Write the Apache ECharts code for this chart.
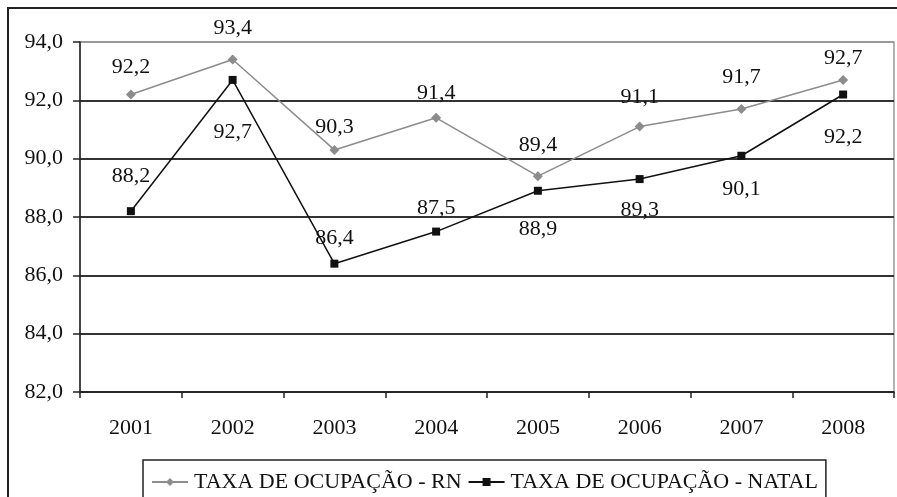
<!DOCTYPE html>
<html>
<head>
<meta charset="utf-8">
<script src="https://cdn.jsdelivr.net/npm/echarts@6/dist/echarts.min.js"></script>
<style>
  html, body { margin: 0; padding: 0; background: #fff; }
  #frame {
    position: absolute; left: 7px; top: 7px; width: 900px; height: 500px;
    border-left: 2px solid #222; border-top: 2px solid #222;
  }
  #chart { position: absolute; left: 0; top: 0; width: 897px; height: 497px; }
</style>
</head>
<body>
<div id="frame"></div>
<div id="chart"></div>
<script>
const years = ['2001', '2002', '2003', '2004', '2005', '2006', '2007', '2008'];
const taxaRN = [92.2, 93.4, 90.3, 91.4, 89.4, 91.1, 91.7, 92.7];
const taxaNatal = [88.2, 92.7, 86.4, 87.5, 88.9, 89.3, 90.1, 92.2];
// label placement as in the original
const rnLabelDist = [11, 15, 7, 9, 15, 13, 16, 6];
const natalLabelPos = ['top', 'bottom', 'top', 'top', 'bottom', 'bottom', 'bottom', 'bottom'];
const natalLabelDist = [20, 37, 10, 8, 23, 16, 18, 28];

const font = '"Liberation Serif", "DejaVu Serif", serif';
const fmt = v => v.toFixed(1).replace('.', ',');

const chart = echarts.init(document.getElementById('chart'), null, { renderer: 'canvas' });

chart.setOption({
  animation: false,
  grid: {
    left: 80, right: 3, top: 42, bottom: 105,
    show: true, borderColor: '#999', borderWidth: 1.5, backgroundColor: 'transparent'
  },
  legend: {
    left: 143, top: 460,
    padding: [11, 8, 12, 8],
    borderColor: '#222', borderWidth: 1.5,
    itemWidth: 36, itemHeight: 10, itemGap: 6,
    textStyle: { fontFamily: font, fontSize: 22, color: '#111', padding: [0, 0, 0, 1] },
    data: ['TAXA DE OCUPAÇÃO - RN', 'TAXA DE OCUPAÇÃO - NATAL']
  },
  xAxis: {
    type: 'category',
    data: years,
    boundaryGap: true,
    axisLine: { lineStyle: { color: '#222', width: 1.5 } },
    axisTick: { show: true, alignWithLabel: false, length: 6, lineStyle: { color: '#222', width: 1.5 } },
    axisLabel: { margin: 25, fontFamily: font, fontSize: 22, color: '#111' }
  },
  yAxis: {
    type: 'value',
    min: 82, max: 94, interval: 2,
    axisLine: { show: true, lineStyle: { color: '#222', width: 1.5 } },
    axisTick: { show: true, length: 7, lineStyle: { color: '#222', width: 1.5 } },
    axisLabel: { margin: 17, fontFamily: font, fontSize: 22, color: '#111', formatter: fmt },
    splitLine: { lineStyle: { color: ['#333', '#333', '#333', '#333', '#333', '#333', '#999'], width: 1.8 } }
  },
  series: [
    {
      name: 'TAXA DE OCUPAÇÃO - RN',
      type: 'line',
      data: taxaRN.map((v, i) => ({ value: v, label: { distance: rnLabelDist[i] } })),
      symbol: 'diamond',
      symbolSize: 10,
      itemStyle: { color: '#8c8c8c' },
      lineStyle: { color: '#8c8c8c', width: 1.5 },
      label: {
        show: true, position: 'top',
        fontFamily: font, fontSize: 22, color: '#111',
        formatter: p => fmt(p.value)
      },
      z: 3
    },
    {
      name: 'TAXA DE OCUPAÇÃO - NATAL',
      type: 'line',
      data: taxaNatal.map((v, i) => ({
        value: v,
        label: { position: natalLabelPos[i], distance: natalLabelDist[i] }
      })),
      symbol: 'rect',
      symbolSize: 8,
      itemStyle: { color: '#111' },
      lineStyle: { color: '#111', width: 1.5 },
      label: {
        show: true,
        fontFamily: font, fontSize: 22, color: '#111',
        formatter: p => fmt(p.value)
      },
      z: 4
    }
  ]
});
</script>
</body>
</html>
